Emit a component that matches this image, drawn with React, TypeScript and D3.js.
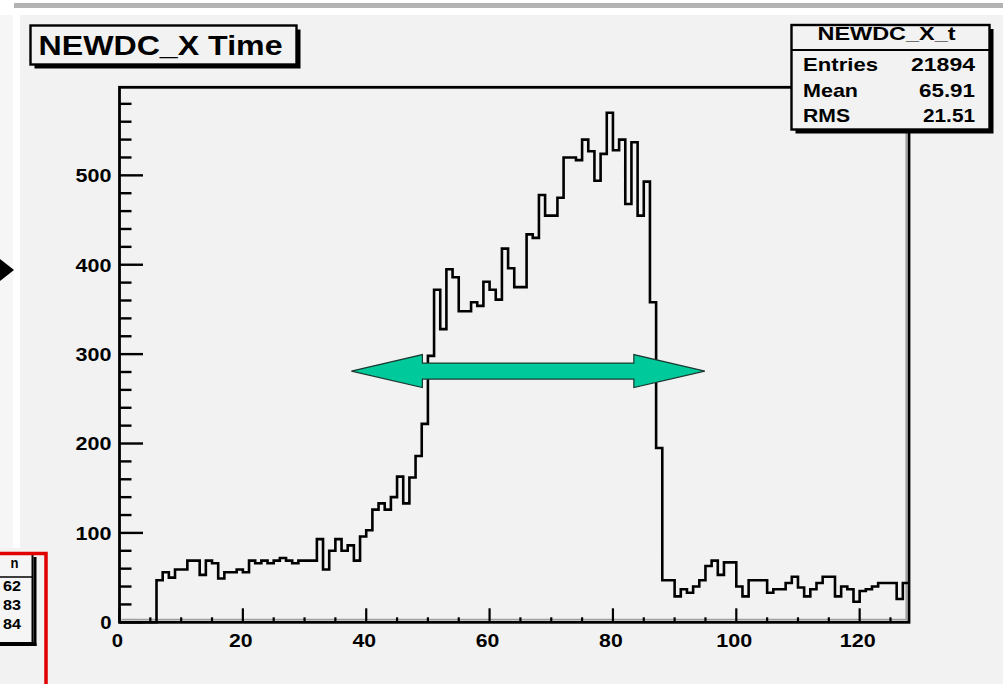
import React from 'react';
import * as d3 from 'd3';

// Histogram axis range (one unit per bin)
const xLow = 0;
const xHigh = 128;

// Bin contents, bins 0..127
const counts: number[] = [
  0, 0, 0, 0, 0, 0,
  47, 56, 50, 59, 59,
  69, 69, 53, 69, 66,
  49, 56, 56, 59, 56,
  69, 66, 69, 66, 69,
  72, 69, 66, 69, 69,
  69, 93, 59, 80, 93,
  80, 86, 69, 96, 103,
  126, 133, 126, 140, 163,
  133, 162, 186, 222, 298,
  372, 328, 395, 386, 348,
  348, 358, 354, 381, 372,
  361, 418, 396, 375, 375,
  434, 430, 478, 455, 455,
  475, 520, 520, 517, 540,
  527, 494, 524, 570, 528,
  540, 468, 537, 455, 493,
  358, 195, 47, 47, 29,
  37, 33, 40, 47, 63,
  69, 53, 67, 67, 40,
  29, 47, 47, 47, 33,
  37, 37, 44, 51, 39,
  29, 37, 44, 51, 51,
  29, 40, 37, 23, 35,
  37, 40, 44, 44, 44,
  26, 44,
];

const xMajorTicks = [0, 20, 40, 60, 80, 100, 120];
const yMajorTicks = [0, 100, 200, 300, 400, 500];

const histTitle = 'NEWDC_X Time';
const statsTitle = 'NEWDC_X_t';
const statsNames = ['Entries', 'Mean', 'RMS'];
const statsValues = ['21894', '65.91', '21.51'];
const sideStatsValues = ['62', '83', '84'];

// Double arrow marking the plateau width, in data units
const arrowRange = [37.6, 94.9];
const arrowLevel = 281;

const FONT = "'Liberation Sans', Arial, Helvetica, sans-serif";
const CANVAS = '#f2f2f2';

type TProps = {
  x: number;
  y: number;
  w: number;
  size: number;
  anchor?: 'start' | 'middle' | 'end';
  children: React.ReactNode;
};

// Bold label stretched to a fixed width, like the wide bitmap font of the viewer
function T({ x, y, w, size, anchor = 'start', children }: TProps) {
  const x0 = anchor === 'end' ? x - w : anchor === 'middle' ? x - w / 2 : x;
  return (
    <text
      x={x0}
      y={y}
      textLength={w}
      lengthAdjust="spacingAndGlyphs"
      fontSize={size}
      fontFamily={FONT}
      fontWeight="bold"
      fill="#000"
    >
      {children}
    </text>
  );
}

export default function App() {
  const frameL = 119.5;
  const frameR = 909;
  const frameT = 87.3;
  const frameB = 622.3;

  const x = d3.scaleLinear().domain([xLow, xHigh]).range([frameL, frameR]);
  const yMax = 1.05 * (d3.max(counts) as number);
  const y = d3.scaleLinear().domain([0, yMax]).range([frameB, frameT]);

  const pts: [number, number][] = counts.map((c, i) => [xLow + i, c]);
  pts.push([xHigh, counts[counts.length - 1]]);
  const stepLine = d3
    .line<[number, number]>()
    .x((d) => x(d[0]))
    .y((d) => y(d[1]))
    .curve(d3.curveStepAfter);

  const xMinor = d3.range(xLow, xHigh, 5).filter((v) => v % 20 !== 0);
  const yMinor = d3.range(0, yMax, 20).filter((v) => v % 100 !== 0);

  const digitW = 12.3;

  // arrow geometry
  const ax0 = x(arrowRange[0]);
  const ax1 = x(arrowRange[1]);
  const ay = y(arrowLevel);
  const headLen = 71;
  const headHalf = 16.5;
  const shaftHalf = 8;
  const arrowPts: [number, number][] = [
    [ax0, ay],
    [ax0 + headLen, ay - headHalf],
    [ax0 + headLen, ay - shaftHalf],
    [ax1 - headLen, ay - shaftHalf],
    [ax1 - headLen, ay - headHalf],
    [ax1, ay],
    [ax1 - headLen, ay + headHalf],
    [ax1 - headLen, ay + shaftHalf],
    [ax0 + headLen, ay + shaftHalf],
    [ax0 + headLen, ay + headHalf],
  ];

  // stats box
  const sbL = 791.5;
  const sbR = 989.5;
  const sbT = 25;
  const sbB = 129.5;
  const sbDiv = 50;
  const statsRowsY = [71, 96.5, 122];
  const statsNameW = [75, 55, 47];
  const statsValW = [64, 56, 52];

  // title box
  const tbL = 30.5;
  const tbR = 296.5;
  const tbT = 25.5;
  const tbB = 64.5;

  return (
    <svg
      width={1003}
      height={684}
      viewBox="0 0 1003 684"
      style={{ position: 'absolute', left: 0, top: 0, display: 'block' }}
    >
      {/* page background */}
      <rect x={0} y={0} width={1003} height={684} fill="#ffffff" />
      <rect x={14} y={3} width={989} height={5} fill="#b3b3b3" />
      <rect x={0} y={15} width={13} height={533} fill="#f6f6f6" />
      <rect x={20} y={15} width={983} height={669} fill={CANVAS} />
      <rect x={0} y={548} width={20} height={136} fill={CANVAS} />

      {/* neighbouring panel: cropped stats box inside red highlight */}
      <rect x={-10} y={553} width={44} height={90} fill="#f5f5f5" />
      <rect x={33.5} y={557} width={3} height={89} fill="#000" />
      <rect x={-10} y={643} width={46.5} height={3} fill="#000" />
      <line x1={-10} x2={33.5} y1={643} y2={643} stroke="#000" strokeWidth={2} />
      <line x1={32.5} x2={32.5} y1={553} y2={643} stroke="#000" strokeWidth={2} />
      <line x1={-10} x2={32.5} y1={577} y2={577} stroke="#000" strokeWidth={1.5} />
      <T x={18.5} y={568} w={8} size={14} anchor="end">n</T>
      {sideStatsValues.map((v, i) => (
        <T key={v} x={21} y={591 + i * 19} w={18} size={14} anchor="end">
          {v}
        </T>
      ))}
      <polyline
        points="-5,553.5 46,553.5 46,690"
        fill="none"
        stroke="#e00000"
        strokeWidth={3.5}
      />

      {/* pointer arrowhead at the left margin */}
      <polygon points="0,259 14,270 0,281" fill="#000" />

      {/* frame shading */}
      <line x1={frameL + 2} x2={frameR - 2} y1={frameB - 2.8} y2={frameB - 2.8} stroke="#a0a0a0" strokeWidth={1.6} />
      <line x1={frameR - 2.8} x2={frameR - 2.8} y1={frameT + 2} y2={frameB - 2} stroke="#a0a0a0" strokeWidth={1.6} />

      {/* histogram */}
      <path d={stepLine(pts) || ''} fill="none" stroke="#000" strokeWidth={2.6} strokeLinejoin="miter" />

      {/* frame */}
      <rect
        x={frameL}
        y={frameT}
        width={frameR - frameL}
        height={frameB - frameT}
        fill="none"
        stroke="#000"
        strokeWidth={2.8}
      />

      {/* y axis ticks */}
      {yMajorTicks.map((v) => (
        <line key={'ym' + v} x1={frameL} x2={frameL + 23.5} y1={y(v)} y2={y(v)} stroke="#000" strokeWidth={2.4} />
      ))}
      {yMinor.map((v) => (
        <line key={'yn' + v} x1={frameL} x2={frameL + 12} y1={y(v)} y2={y(v)} stroke="#000" strokeWidth={2.4} />
      ))}
      {yMajorTicks.map((v) => {
        const s = String(v);
        return (
          <T key={'yl' + v} x={111.5} y={y(v) + 6.8} w={s.length * digitW - 1} size={19} anchor="end">
            {s}
          </T>
        );
      })}

      {/* x axis ticks */}
      {xMajorTicks.map((v) => (
        <line key={'xm' + v} x1={x(v)} x2={x(v)} y1={frameB} y2={frameB - 14} stroke="#000" strokeWidth={2.2} />
      ))}
      {xMinor.map((v) => (
        <line key={'xn' + v} x1={x(v)} x2={x(v)} y1={frameB} y2={frameB - 5} stroke="#000" strokeWidth={2.2} />
      ))}
      {xMajorTicks.map((v) => {
        const s = String(v);
        return (
          <T key={'xl' + v} x={x(v) - 2} y={647} w={s.length * digitW - 1} size={19} anchor="middle">
            {s}
          </T>
        );
      })}

      {/* width marker */}
      <polygon
        points={arrowPts.map((p) => p.join(',')).join(' ')}
        fill="#00c99b"
        stroke="#1a3a30"
        strokeWidth={1.2}
        strokeLinejoin="miter"
      />

      {/* stats box */}
      <rect x={sbL + 4} y={sbT + 4} width={sbR - sbL} height={sbB - sbT} fill="#000" />
      <rect x={sbL} y={sbT} width={sbR - sbL} height={sbB - sbT} fill={CANVAS} stroke="#000" strokeWidth={2.4} />
      <line x1={sbL} x2={sbR} y1={sbDiv} y2={sbDiv} stroke="#000" strokeWidth={2} />
      <T x={(sbL + sbR) / 2 - 4} y={40} w={138} size={19} anchor="middle">
        {statsTitle}
      </T>
      {statsNames.map((n, i) => (
        <T key={n} x={803} y={statsRowsY[i]} w={statsNameW[i]} size={19}>
          {n}
        </T>
      ))}
      {statsValues.map((v, i) => (
        <T key={v} x={975} y={statsRowsY[i]} w={statsValW[i]} size={19} anchor="end">
          {v}
        </T>
      ))}

      {/* title box */}
      <rect x={tbL + 4} y={tbT + 4} width={tbR - tbL} height={tbB - tbT} fill="#000" />
      <rect x={tbL} y={tbT} width={tbR - tbL} height={tbB - tbT} fill={CANVAS} stroke="#000" strokeWidth={2.4} />
      <T x={38.5} y={55} w={244} size={28}>
        {histTitle}
      </T>
    </svg>
  );
}
